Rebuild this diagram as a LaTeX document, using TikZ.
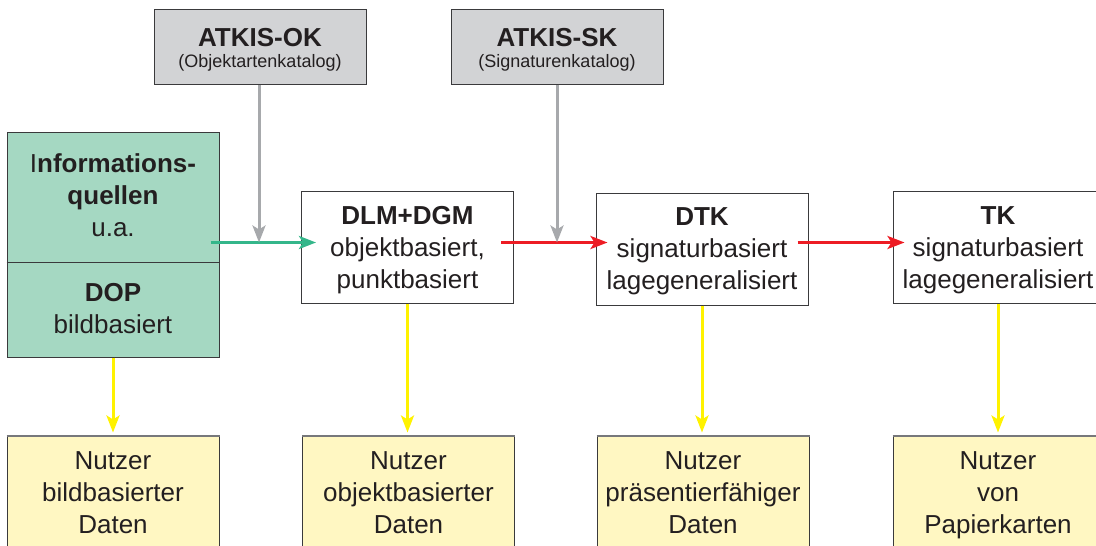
\documentclass[tikz,border=0pt]{standalone}
\usepackage{fontspec}
\setmainfont{Liberation Sans}
\usetikzlibrary{arrows.meta,calc}
\definecolor{txt}{HTML}{231F20}
\definecolor{boxline}{HTML}{3A3A3C}
\definecolor{grayfill}{HTML}{D2D3D5}
\definecolor{grayarr}{HTML}{A7A9AC}
\definecolor{mint}{HTML}{A5D8C2}
\definecolor{garr}{HTML}{34B68A}
\definecolor{rarr}{HTML}{ED1C24}
\definecolor{yarr}{HTML}{FFF200}
\definecolor{lyellow}{HTML}{FFF7C2}
\definecolor{topedge}{HTML}{77787B}
\begin{document}
\begin{tikzpicture}[x=1pt,y=-1pt,
  every node/.style={text=txt, align=center, inner sep=0pt, font=\fontsize{26}{32}\selectfont},
  frame/.style={draw=boxline, line width=1pt, minimum width=212pt, minimum height=112pt},
  catbox/.style={draw=boxline, line width=1pt, fill=grayfill, minimum width=212pt, minimum height=75pt},
  srcbox/.style={draw=boxline, line width=1pt, fill=mint, minimum width=212pt, minimum height=225pt},
  userbox/.style={draw=boxline, line width=1pt, fill=lyellow, minimum width=212pt, minimum height=130pt},
  cattext/.style={font=\fontsize{18}{21}\selectfont},
  tip/.style={-{Stealth[length=17pt,width=13pt,inset=4pt]}, line width=3pt},
  greenflow/.style={tip, draw=garr},
  redflow/.style={tip, draw=rarr},
  grayflow/.style={tip, draw=grayarr},
  yellowflow/.style={tip, draw=yarr, shorten >=3pt},
]
\useasboundingbox (0,0) rectangle (1096,546);
\clip (0,0) rectangle (1096,546);

% catalogue boxes
\node[catbox] (ok) at (260,46.5) {};
\node[cattext] (oktext) at (260,49.6) {{\fontsize{26}{21}\selectfont\bfseries ATKIS-OK}\\(Objektartenkatalog)};
\node[catbox] (sk) at (557,46.5) {};
\node[cattext] (sktext) at (557,49.6) {{\fontsize{26}{21}\selectfont\bfseries ATKIS-SK}\\(Signaturenkatalog)};

% information sources
\node[srcbox] (info) at (113,244.5) {};
\draw[boxline, line width=1pt] (info.west |- 0,262) coordinate (divl) -- (info.east |- divl);
\node (infotext) at (113,195.5) {I\textbf{nformations-}\\\textbf{quellen}\\u.a.};
\node (doptext) at (113,308.5) {\textbf{DOP}\\bildbasiert};

% products
\node[frame] (dlm) at (407.5,247) {};
\node (dlmtext) at (407.5,250.25) {\textbf{DLM+DGM}\\objektbasiert,\\punktbasiert};
\node[frame] (dtk) at (702,249) {};
\node (dtktext) at (702,251.25) {\textbf{DTK}\\signaturbasiert\\lagegeneralisiert};
\node[frame] (tk) at (999,247) {};
\node (tktext) at (998,250) {\textbf{TK}\\signaturbasiert\\lagegeneralisiert};

% users
\node[userbox] (u1) at (113,501) {};
\node[userbox] (u2) at (408.5,501) {};
\node[userbox] (u3) at (703,501) {};
\node[userbox] (u4) at (999,501) {};
\foreach \u in {u1,u2,u3,u4}
  \draw[topedge, line width=2pt] (\u.north west) -- (\u.north east);
\node (u1text) at (113,492.5) {Nutzer\\bildbasierter\\Daten};
\node (u2text) at (408.5,492.5) {Nutzer\\objektbasierter\\Daten};
\node (u3text) at (703,492.5) {Nutzer\\präsentierfähiger\\Daten};
\node (u4text) at (998,495.3) {Nutzer\\von\\Papierkarten};

% flow line
\coordinate (ay) at (0,242.5);
\draw[greenflow] ($(info.east |- ay)+(-9,0)$) -- ($(dlm.west |- ay)+(15,0)$);
\draw[redflow] ($(dlm.east |- ay)+(-13,0)$) -- ($(dtk.west |- ay)+(12,0)$);
\draw[redflow] ($(dtk.east |- ay)+(-11,0)$) -- ($(tk.west |- ay)+(12,0)$);

% catalogue arrows
\draw[grayflow] ([xshift=-1pt]ok.south) -- ([xshift=-1pt]ok.south |- ay);
\draw[grayflow] (sk.south) -- (sk.south |- ay);

% user arrows
\draw[yellowflow] (info.south) -- (u1.north);
\draw[yellowflow] (dlm.south) -- (dlm.south |- u2.north);
\draw[yellowflow] (dtk.south) -- (dtk.south |- u3.north);
\draw[yellowflow] ([xshift=-1pt]tk.south) -- ([xshift=-1pt]tk.south |- u4.north);
\end{tikzpicture}
\end{document}
